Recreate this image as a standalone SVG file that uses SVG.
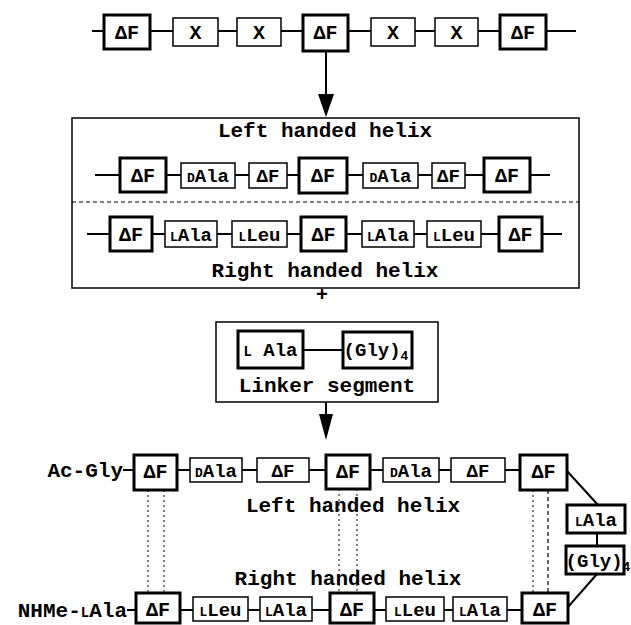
<svg xmlns="http://www.w3.org/2000/svg" width="631" height="625" viewBox="0 0 631 625">
<style>
.ln{stroke:#000;stroke-width:2;fill:none}
.tk{fill:#fff;stroke:#000;stroke-width:3}
.tn{fill:#fff;stroke:#000;stroke-width:1.5}
.fr{fill:#fff;stroke:#000;stroke-width:1.5}
.ds{stroke:#000;stroke-width:1.2;stroke-dasharray:4 3;fill:none}
.dt{stroke:#000;stroke-width:1;stroke-dasharray:2 3;fill:none}
text{font-family:"Liberation Mono","Courier New",monospace;font-weight:bold;fill:#000;text-anchor:middle}
.b{font-size:20px}
.s{font-size:19px}
.p{font-size:13px}
.h{font-size:21px}
</style>
<rect width="631" height="625" fill="#fff"/>

<g id="frames">
<rect id="frame-helices" class="fr" x="72" y="118" width="507" height="170"/>
<line class="ds" x1="72" y1="202" x2="579" y2="202" stroke-width="1"/>
<rect id="frame-linker" class="fr" x="216" y="322" width="222" height="80"/>
</g>

<g id="connectors">
<line class="ln" x1="92" y1="31" x2="576" y2="31" stroke-width="2.5"/>
<line class="ln" x1="95" y1="175" x2="550" y2="175" stroke-width="1.5"/>
<line class="ln" x1="87" y1="234" x2="562" y2="234" stroke-width="1.5"/>
<line class="ln" x1="303" y1="350" x2="343" y2="350" stroke-width="1.5"/>
<line class="ln" x1="326" y1="51" x2="326" y2="102"/>
<polygon points="318,94 334,94 326,117" fill="#000"/>
<line class="ln" x1="326" y1="402" x2="326" y2="420"/>
<polygon points="319,414 333,414 326,440" fill="#000"/>
<line class="ln" x1="123" y1="470" x2="567" y2="470" stroke-width="1.5"/>
<line class="ln" x1="127" y1="610" x2="522" y2="610" stroke-width="1.5"/>
<line class="ln" x1="567" y1="471" x2="598" y2="505"/>
<line class="ln" x1="597" y1="533" x2="597" y2="546"/>
<line class="ln" x1="597" y1="574" x2="568" y2="607"/>
<line class="dt" x1="148" y1="490" x2="148" y2="593"/>
<line class="dt" x1="164" y1="490" x2="164" y2="593"/>
<line class="dt" x1="339" y1="489" x2="339" y2="593"/>
<line class="dt" x1="357" y1="489" x2="357" y2="593"/>
<line class="dt" x1="533" y1="490" x2="533" y2="593"/>
<line class="ds" x1="548" y1="490" x2="548" y2="593"/>
</g>

<g id="top-row">
<g id="t1"><rect class="tk" x="104" y="15" width="46" height="34"/><text class="b" x="127" y="39">ΔF</text></g>
<g id="t2"><rect class="tn" x="173" y="18" width="45" height="28"/><text class="b" x="195.5" y="39">X</text></g>
<g id="t3"><rect class="tn" x="237" y="18" width="44" height="28"/><text class="b" x="259" y="39">X</text></g>
<g id="t4"><rect class="tk" x="303" y="15" width="45" height="36"/><text class="b" x="325.5" y="39">ΔF</text></g>
<g id="t5"><rect class="tn" x="371" y="18" width="44" height="28"/><text class="b" x="393" y="39">X</text></g>
<g id="t6"><rect class="tn" x="435" y="18" width="43" height="28"/><text class="b" x="456.5" y="39">X</text></g>
<g id="t7"><rect class="tk" x="500" y="15" width="46" height="34"/><text class="b" x="523" y="39">ΔF</text></g>
</g>

<g id="left-helix">
<text class="h" x="325" y="137">Left handed helix</text>
<g id="l1"><rect class="tk" x="120" y="158" width="46" height="34"/><text class="b" x="143" y="182">ΔF</text></g>
<g id="l2"><rect class="tn" x="181" y="163" width="54" height="25"/><text class="s" x="208" y="182"><tspan class="p">D</tspan>Ala</text></g>
<g id="l3"><rect class="tn" x="249" y="163" width="38" height="25"/><text class="s" x="268" y="182">ΔF</text></g>
<g id="l4"><rect class="tk" x="299" y="158" width="48" height="35"/><text class="b" x="323" y="182">ΔF</text></g>
<g id="l5"><rect class="tn" x="363" y="163" width="55" height="25"/><text class="s" x="390.5" y="182"><tspan class="p">D</tspan>Ala</text></g>
<g id="l6"><rect class="tn" x="432" y="163" width="33" height="25"/><text class="s" x="448.5" y="182">ΔF</text></g>
<g id="l7"><rect class="tk" x="484" y="158" width="46" height="34"/><text class="b" x="507" y="182">ΔF</text></g>
</g>

<g id="right-helix">
<g id="r1"><rect class="tk" x="110" y="217" width="42" height="34"/><text class="b" x="131" y="241">ΔF</text></g>
<g id="r2"><rect class="tn" x="165" y="221" width="52" height="26"/><text class="s" x="191" y="241"><tspan class="p">L</tspan>Ala</text></g>
<g id="r3"><rect class="tn" x="232" y="221" width="55" height="26"/><text class="s" x="259.5" y="241"><tspan class="p">L</tspan>Leu</text></g>
<g id="r4"><rect class="tk" x="301" y="217" width="45" height="34"/><text class="b" x="323.5" y="241">ΔF</text></g>
<g id="r5"><rect class="tn" x="362" y="221" width="52" height="26"/><text class="s" x="388" y="241"><tspan class="p">L</tspan>Ala</text></g>
<g id="r6"><rect class="tn" x="427" y="221" width="54" height="26"/><text class="s" x="454" y="241"><tspan class="p">L</tspan>Leu</text></g>
<g id="r7"><rect class="tk" x="499" y="217" width="43" height="34"/><text class="b" x="520.5" y="241">ΔF</text></g>
<text class="h" x="325" y="277">Right handed helix</text>
</g>

<text class="b" x="322" y="301">+</text>

<g id="linker">
<g id="k1"><rect class="tk" x="238" y="331" width="65" height="37"/><text class="s" x="270.5" y="356"><tspan font-size="14">L</tspan> Ala</text></g>
<g id="k2"><rect class="tk" x="343" y="332" width="69" height="36"/><text class="s" x="376" y="356">(Gly)<tspan font-size="13" dy="4">4</tspan></text></g>
<text class="h" x="327" y="392">Linker segment</text>
</g>

<g id="bottom-left">
<text class="h" x="123" y="477" style="text-anchor:end">Ac-Gly</text>
<g id="a1"><rect class="tk" x="134" y="455" width="43" height="35"/><text class="b" x="155.5" y="478">ΔF</text></g>
<g id="a2"><rect class="tn" x="190" y="458" width="52" height="24"/><text class="s" x="216" y="477"><tspan class="p">D</tspan>Ala</text></g>
<g id="a3"><rect class="tn" x="257" y="458" width="52" height="24"/><text class="s" x="283" y="477">ΔF</text></g>
<g id="a4"><rect class="tk" x="326" y="455" width="44" height="34"/><text class="b" x="348" y="478">ΔF</text></g>
<g id="a5"><rect class="tn" x="383" y="458" width="56" height="24"/><text class="s" x="411" y="477"><tspan class="p">D</tspan>Ala</text></g>
<g id="a6"><rect class="tn" x="451" y="458" width="54" height="24"/><text class="s" x="478" y="477">ΔF</text></g>
<g id="a7"><rect class="tk" x="520" y="455" width="47" height="35"/><text class="b" x="543.5" y="478">ΔF</text></g>
<text class="h" x="353" y="512">Left handed helix</text>
</g>

<g id="loop">
<g id="m1"><rect class="tk" x="567" y="505" width="58" height="28"/><text class="s" x="596" y="526"><tspan font-size="13">L</tspan>Ala</text></g>
<g id="m2"><rect class="tk" x="566" y="546" width="58" height="28"/><text class="s" x="598" y="567">(Gly)<tspan font-size="13" dy="4">4</tspan></text></g>
</g>

<g id="bottom-right">
<text class="h" x="348" y="585">Right handed helix</text>
<text class="h" x="127" y="617" style="text-anchor:end">NHMe-<tspan font-size="14">L</tspan>Ala</text>
<g id="b1"><rect class="tk" x="136" y="593" width="44" height="30"/><text class="b" x="158" y="616">ΔF</text></g>
<g id="b2"><rect class="tn" x="193" y="597" width="55" height="24"/><text class="s" x="220.5" y="616"><tspan class="p">L</tspan>Leu</text></g>
<g id="b3"><rect class="tn" x="260" y="597" width="52" height="24"/><text class="s" x="286" y="616"><tspan class="p">L</tspan>Ala</text></g>
<g id="b4"><rect class="tk" x="330" y="593" width="44" height="30"/><text class="b" x="352" y="616">ΔF</text></g>
<g id="b5"><rect class="tn" x="386" y="597" width="58" height="24"/><text class="s" x="415" y="616"><tspan class="p">L</tspan>Leu</text></g>
<g id="b6"><rect class="tn" x="453" y="597" width="54" height="24"/><text class="s" x="480" y="616"><tspan class="p">L</tspan>Ala</text></g>
<g id="b7"><rect class="tk" x="522" y="593" width="46" height="30"/><text class="b" x="545" y="616">ΔF</text></g>
</g>
</svg>
